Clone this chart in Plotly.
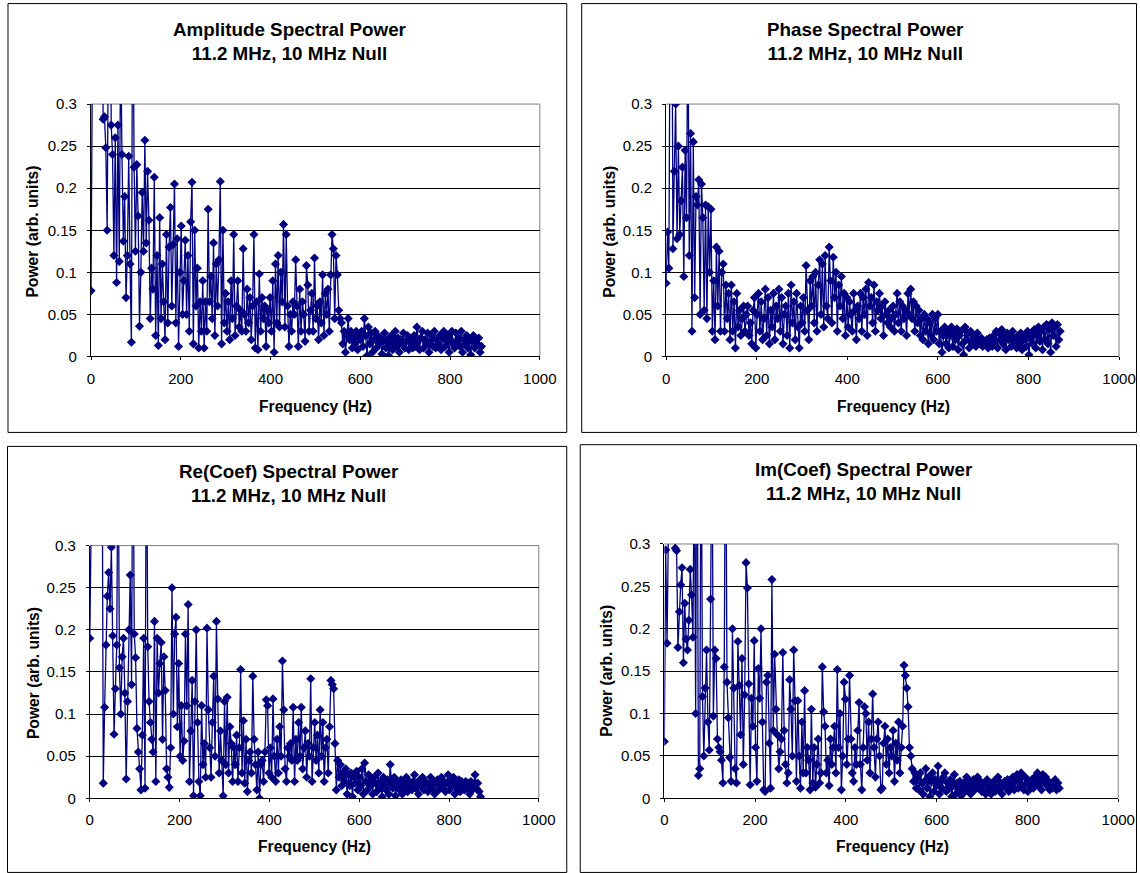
import plotly.graph_objects as go

FREQ_STEP_HZ = 3.0

amp = [
    .078, .45, .62, .38, .52, .34, .48, .31, .56, .282, .285, .248, .15, .42, .55, .275, .24, .12, .26, .088,
    .275, .113, .38, .24, .137, .19, .07, .12, .238, .11, .017, .5, .225, .125, .228, .167, .036, .1, .195, .125,
    .257, .135, .22, .162, .045, .105, .08, .213, .025, .12, .013, .165, .045, .11, .065, .02, .145, .04, .13, .177,
    .06, .133, .205, .04, .14, .012, .1, .155, .05, .09, .138, .05, .12, .03, .16, .207, .015, .15, .06, .105,
    .01, .065, .03, .09, .01, .065, .03, .175, .065, .095, .045, .135, .025, .11, .06, .115, .208, .015, .15, .04,
    .075, .03, .065, .02, .09, .045, .145, .025, .06, .09, .035, .055, .03, .128, .05, .03, .08, .04, .07, .02,
    .06, .145, .01, .065, .008, .098, .03, .07, .045, .06, .012, .055, .04, .07, .03, .09, .005, .11, .04, .12,
    .035, .1, .065, .157, .035, .145, .06, .012, .05, .03, .065, .05, .115, .06, .012, .08, .03, .065, .05, .018,
    .108, .085, .03, .055, .075, .03, .117, .045, .06, .02, .065, .04, .097, .025, .075, .05, .08, .03, .097, .145,
    .128, .045, .12, .097, .055, .045, .04, .015, .03, .005, .025, .045, .02, .03, .01, .025, .015, .03, .008, .025,
    .02, .03, .012, .045, .025, .001, .035, .015, .028, .005, .02, .03, .01, .025, .015, .022, .003, .018, .028, .01,
    .02, .001, .015, .025, .008, .018, .03, .012, .022, .005, .02, .015, .028, .01, .018, .025, .008, .02, .015, .01,
    .025, .012, .035, .018, .008, .022, .03, .01, .02, .015, .028, .005, .018, .025, .012, .03, .01, .02, .015, .025,
    .008, .022, .03, .012, .018, .025, .005, .02, .03, .015, .01, .028, .018, .022, .012, .03, .005, .02, .015, .025,
    .01, .02, .002, .018, .025, .01, .02, .015, .022, .005, .012,
]

phase = [
    .087, .148, .105, .45, .6, .128, .22, .30, .14, .25, .145, .185, .225, .095, .245, .165, .42, .12, .265, .03,
    .255, .07, .19, .18, .21, .05, .205, .165, .055, .18, .045, .178, .1, .175, .03, .09, .02, .13, .06, .125,
    .03, .1, .11, .03, .085, .045, .075, .02, .085, .03, .065, .01, .075, .035, .055, .025, .045, .06, .03, .05,
    .06, .025, .04, .015, .055, .07, .01, .05, .075, .03, .065, .02, .045, .08, .025, .07, .015, .055, .035, .075,
    .02, .06, .045, .08, .03, .07, .015, .05, .06, .025, .075, .01, .085, .04, .065, .02, .075, .035, .01, .06,
    .04, .07, .03, .108, .055, .02, .09, .06, .095, .04, .1, .03, .085, .115, .05, .11, .035, .12, .06, .045,
    .13, .09, .04, .118, .07, .1, .03, .085, .06, .095, .045, .075, .025, .07, .035, .065, .05, .03, .075, .055,
    .02, .06, .045, .075, .03, .07, .05, .08, .025, .088, .06, .07, .04, .085, .03, .065, .055, .075, .045, .06,
    .025, .065, .05, .04, .055, .035, .045, .06, .03, .05, .075, .04, .065, .03, .06, .045, .055, .025, .075, .05,
    .08, .045, .065, .03, .06, .04, .055, .025, .045, .02, .05, .03, .045, .015, .04, .025, .05, .02, .045, .03,
    .05, .015, .03, .005, .025, .035, .015, .03, .01, .025, .035, .012, .028, .02, .033, .008, .025, .03, .015, .002,
    .035, .02, .028, .01, .03, .015, .025, .02, .012, .028, .018, .015, .022, .012, .018, .015, .02, .01, .022, .015,
    .012, .025, .018, .03, .01, .028, .02, .032, .015, .025, .008, .028, .02, .025, .012, .03, .018, .022, .01, .025,
    .015, .028, .008, .02, .025, .012, .03, .002, .022, .028, .015, .032, .01, .025, .035, .018, .03, .008, .035, .02,
    .038, .015, .032, .005, .04, .025, .035, .012, .038, .02, .03,
]

re_coef = [
    .19, .55, .42, .6, .38, .5, .45, .33, .48, .52, .018, .108, .182, .24, .268, .225, .298, .193, .076, .13,
    .182, .45, .155, .1, .168, .19, .125, .023, .115, .2, .265, .135, .5, .195, .167, .083, .055, .035, .01, .075,
    .19, .012, .5, .18, .115, .09, .07, .055, .21, .02, .19, .125, .16, .185, .07, .168, .128, .035, .025, .013,
    .06, .25, .1, .195, .215, .085, .16, .05, .11, .045, .068, .195, .11, .23, .02, .08, .14, .003, .115, .2,
    .09, .02, .003, .11, .04, .065, .025, .202, .105, .06, .025, .09, .145, .05, .21, .118, .03, .08, .045, .003,
    .115, .04, .12, .03, .085, .065, .02, .06, .04, .075, .02, .06, .153, .03, .092, .018, .07, .008, .045, .055,
    .03, .145, .07, .04, .01, .055, .0, .04, .045, .02, .055, .117, .11, .03, .06, .025, .118, .05, .02, .07,
    .03, .085, .05, .163, .105, .035, .02, .06, .05, .065, .045, .108, .02, .07, .045, .09, .05, .108, .035, .06,
    .08, .025, .065, .05, .142, .02, .06, .09, .045, .075, .03, .105, .05, .09, .02, .06, .07, .03, .085, .14,
    .135, .13, .065, .01, .045, .025, .04, .015, .03, .02, .035, .005, .028, .015, .03, .002, .025, .018, .032, .01,
    .025, .015, .035, .005, .042, .02, .01, .028, .015, .022, .005, .025, .018, .008, .03, .012, .02, .002, .025, .015,
    .01, .022, .005, .04, .018, .012, .025, .003, .02, .015, .01, .022, .005, .018, .012, .025, .008, .02, .015, .01,
    .02, .028, .012, .018, .005, .022, .015, .025, .01, .02, .018, .008, .015, .025, .012, .02, .005, .018, .022, .01,
    .015, .025, .012, .02, .008, .018, .028, .01, .02, .015, .025, .005, .018, .012, .022, .008, .02, .015, .01, .02,
    .012, .018, .005, .02, .01, .015, .028, .012, .018, .008, .002,
]

im_coef = [
    .067, .293, .183, .5, .45, .6, .38, .55, .295, .292, .178, .22, .252, .272, .16, .23, .188, .175, .21, .27,
    .24, .19, .42, .1, .55, .027, .035, .48, .12, .05, .13, .175, .09, .057, .235, .45, .097, .175, .165, .07,
    .06, .055, .045, .018, .155, .5, .137, .095, .048, .02, .2, .13, .035, .018, .185, .133, .075, .165, .04, .122,
    .278, .248, .135, .016, .118, .085, .186, .06, .02, .153, .118, .2, .09, .01, .008, .137, .145, .065, .012, .258,
    .08, .17, .105, .075, .035, .055, .07, .172, .08, .04, .018, .03, .14, .105, .05, .175, .115, .02, .115, .05,
    .012, .09, .03, .127, .03, .06, .045, .01, .105, .018, .06, .013, .04, .07, .018, .03, .155, .102, .085, .03,
    .045, .015, .07, .04, .06, .085, .03, .152, .06, .1, .01, .05, .137, .117, .04, .07, .145, .07, .03, .02,
    .06, .04, .08, .113, .04, .01, .06, .108, .1, .045, .09, .03, .07, .123, .06, .025, .07, .09, .05, .01,
    .012, .065, .085, .04, .07, .03, .06, .05, .08, .02, .065, .045, .09, .03, .06, .085, .157, .145, .13, .108,
    .06, .05, .035, .02, .03, .012, .025, .01, .03, .018, .005, .02, .035, .012, .025, .002, .02, .03, .008, .022,
    .015, .038, .005, .02, .012, .025, .03, .008, .018, .012, .022, .002, .015, .028, .005, .018, .01, .02, .003, .012,
    .018, .008, .025, .012, .02, .005, .015, .022, .01, .018, .025, .012, .02, .008, .015, .018, .005, .022, .01, .015,
    .005, .015, .02, .008, .012, .025, .01, .018, .005, .015, .02, .012, .022, .008, .015, .018, .025, .01, .02, .028,
    .012, .022, .03, .015, .01, .025, .018, .008, .02, .015, .022, .012, .025, .018, .03, .015, .022, .01, .028, .02,
    .025, .015, .02, .01, .018, .012, .015, .022, .01, .018, .012,
]

titles = [
    "Amplitude Spectral Power",
    "Phase Spectral Power",
    "Re(Coef) Spectral Power",
    "Im(Coef) Spectral Power",
]
subtitle = "11.2 MHz, 10 MHz Null"
x_title = "Frequency (Hz)"
y_title = "Power (arb. units)"
x_ticks = [0, 200, 400, 600, 800, 1000]
y_ticks = [0, 0.05, 0.1, 0.15, 0.2, 0.25, 0.3]
y_tick_text = ["0", "0.05", "0.1", "0.15", "0.2", "0.25", "0.3"]

series = [amp, phase, re_coef, im_coef]

# figure size and mapping of target picture pixels to figure pixels
SHIFT = 7  # figure is drawn 7px higher on the page (negative body margin)
W, H = 1156, 892
A_X, B_X, A_Y, B_Y = 0.984, 3.0, 0.982, 7.0
FS = 1 / 0.984
FONT = "Liberation Sans, Arial, sans-serif"
NAVY = "#000080"

# per panel: outer box, plot area (x0, y0, x1, y1), title centre, x-title centre, y-title centre
panels = [
    dict(box=(7, 1.7, 567, 431), area=(90.2, 102.3, 540, 355),
         title=(289.5, 39.5), xt=(315.5, 405), yt=(32, 230)),
    dict(box=(582, 1.7, 1138, 431), area=(666.6, 102.3, 1120.5, 355),
         title=(866, 39.5), xt=(894, 405), yt=(609.5, 230)),
    dict(box=(6.5, 445, 567, 871.5), area=(89, 544.3, 539, 797.3),
         title=(288.5, 482.5), xt=(314.5, 846), yt=(32, 672)),
    dict(box=(580.5, 443.3, 1138, 871.5), area=(664.8, 542.7, 1119.7, 797.3),
         title=(864.5, 480.3), xt=(893, 846), yt=(606, 670)),
]


def px(x):
    return ((x - B_X) / A_X) / W


def py(y):
    return 1 - ((y - B_Y) / A_Y + SHIFT) / H


fig = go.Figure()
shapes = []
annotations = []

for k, (vals, p) in enumerate(zip(series, panels)):
    n = k + 1
    xa = "x" if n == 1 else f"x{n}"
    ya = "y" if n == 1 else f"y{n}"
    freq = [i * FREQ_STEP_HZ for i in range(len(vals))]
    fig.add_trace(go.Scatter(
        x=freq, y=vals, xaxis=xa, yaxis=ya, mode="lines+markers",
        line=dict(color=NAVY, width=1.3),
        marker=dict(symbol="diamond", size=7, color=NAVY),
        showlegend=False, hoverinfo="skip",
    ))
    ax0, ay0, ax1, ay1 = p["area"]
    xkey = "xaxis" if n == 1 else f"xaxis{n}"
    ykey = "yaxis" if n == 1 else f"yaxis{n}"
    fig.update_layout({
        xkey: dict(
            domain=[px(ax0), px(ax1)], anchor=ya, range=[0, 1000],
            tickvals=x_ticks, ticks="outside", ticklen=3, tickcolor="black",
            ticklabelstandoff=5,
            showgrid=False, zeroline=False, showline=True, linecolor="black", linewidth=1,
            tickfont=dict(family=FONT, size=14.8 * FS, color="black"),
        ),
        ykey: dict(
            domain=[py(ay1), py(ay0)], anchor=xa, range=[0, 0.3],
            tickvals=y_ticks, ticktext=y_tick_text, ticks="outside", ticklen=3, tickcolor="black",
            ticklabelstandoff=7,
            showgrid=True, gridcolor="black", gridwidth=1, zeroline=False,
            showline=True, linecolor="black", linewidth=1,
            tickfont=dict(family=FONT, size=14.8 * FS, color="black"),
        ),
    })
    # gray plot-area border (top and right)
    shapes.append(dict(type="line", xref="paper", yref="paper",
                       x0=px(ax0), x1=px(ax1), y0=py(ay0), y1=py(ay0),
                       line=dict(color="#808080", width=1), layer="below"))
    shapes.append(dict(type="line", xref="paper", yref="paper",
                       x0=px(ax1), x1=px(ax1), y0=py(ay0), y1=py(ay1),
                       line=dict(color="#808080", width=1), layer="below"))
    # outer chart box
    bx0, by0, bx1, by1 = p["box"]
    shapes.append(dict(type="rect", xref="paper", yref="paper",
                       x0=px(bx0), x1=px(bx1), y0=py(by1), y1=py(by0),
                       line=dict(color="black", width=1), layer="below"))
    tx, ty = p["title"]
    annotations.append(dict(
        text=f"<b>{titles[k]}</b><br><b>{subtitle}</b>", x=px(tx), y=py(ty),
        xref="paper", yref="paper", showarrow=False, xanchor="center", yanchor="middle",
        font=dict(family=FONT, size=18.5 * FS, color="black"), align="center",
    ))
    xx, xy = p["xt"]
    annotations.append(dict(
        text=f"<b>{x_title}</b>", x=px(xx), y=py(xy),
        xref="paper", yref="paper", showarrow=False, xanchor="center", yanchor="middle",
        font=dict(family=FONT, size=15.4 * FS, color="black"),
    ))
    yx, yy = p["yt"]
    annotations.append(dict(
        text=f"<b>{y_title}</b>", x=px(yx), y=py(yy),
        xref="paper", yref="paper", showarrow=False, xanchor="center", yanchor="middle",
        textangle=-90, font=dict(family=FONT, size=15.4 * FS, color="black"),
    ))

fig.update_layout(
    width=W, height=H, margin=dict(l=0, r=0, t=0, b=0),
    paper_bgcolor="white", plot_bgcolor="white",
    shapes=shapes, annotations=annotations,
)

fig.write_html(
    "out.html",
    config={"displayModeBar": False},
    post_script=(
        "document.body.style.margin='-%dpx 0 0 0';"
        "document.body.style.overflow='hidden';" % SHIFT
    ),
)
